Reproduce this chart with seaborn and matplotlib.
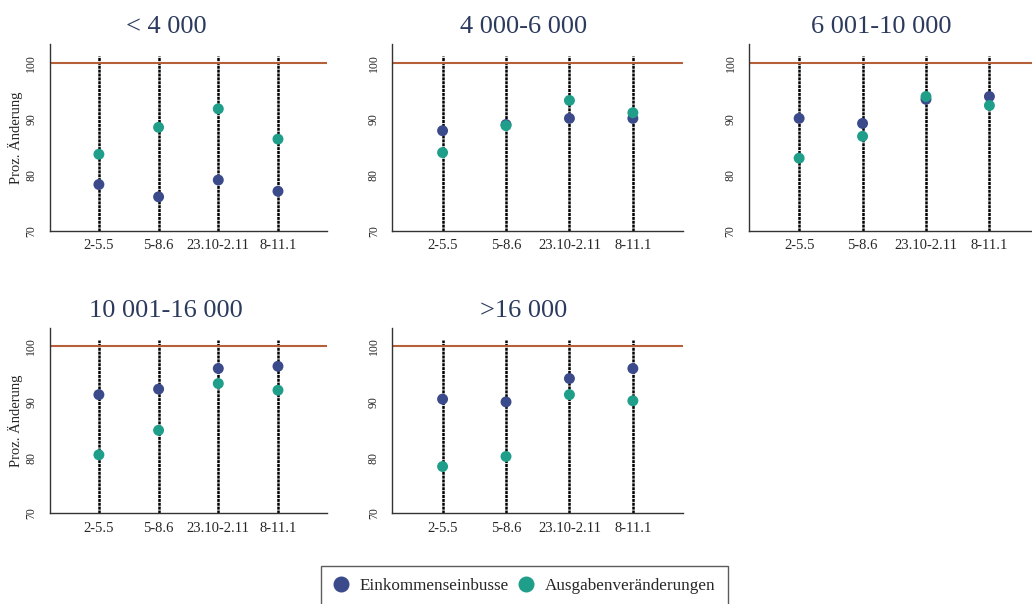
import numpy as np
import pandas as pd
import seaborn as sns
import matplotlib.pyplot as plt
from matplotlib.lines import Line2D

sns.set_style("white")
plt.rcParams['font.family'] = ['Liberation Serif', 'DejaVu Serif']

periods = ["2-5.5", "5-8.6", "23.10-2.11", "8-11.1"]
groups = ["< 4 000", "4 000-6 000", "6 001-10 000", "10 001-16 000", ">16 000"]

einkommen = [
    [78.3, 76.1, 79.1, 77.1],
    [87.9, 89.0, 90.1, 90.1],
    [90.1, 89.2, 93.5, 94.0],
    [91.3, 92.3, 96.0, 96.4],
    [90.5, 90.0, 94.2, 96.0],
]
ausgaben = [
    [83.7, 88.5, 91.8, 86.4],
    [84.0, 88.8, 93.3, 91.1],
    [83.0, 86.9, 94.0, 92.4],
    [80.5, 84.9, 93.3, 92.1],
    [78.4, 80.2, 91.3, 90.2],
]

c_ein = "#3b4a8b"
c_aus = "#1f9e89"
c_ref = "#b5603a"
c_title = "#2c3a5e"

rows = []
for g, ein, aus in zip(groups, einkommen, ausgaben):
    for i, p in enumerate(periods):
        rows.append({"group": g, "x": i + 1, "period": p, "serie": "Einkommenseinbusse", "value": ein[i]})
        rows.append({"group": g, "x": i + 1, "period": p, "serie": "Ausgabenveränderungen", "value": aus[i]})
df = pd.DataFrame(rows)

fig = plt.figure(figsize=(10.32, 6.04), dpi=100)
# column layout: (left, width, xlim, title x)
cols = [
    (0.0484, 0.2684, (0.18, 4.82), 0.419),
    (0.3803, 0.2815, (0.21, 4.79), 0.452),
    (0.7258, 0.2815, (0.21, 4.79), 0.454),
]
rows_pos = [(0.6175, 0.309), (0.1502, 0.307)]

for k, g in enumerate(groups):
    r, c = divmod(k, 3)
    left, w, xl, tx = cols[c]
    b, h = rows_pos[r]
    ax = fig.add_axes([left, b, w, h])
    sub = df[df.group == g]
    ax.vlines(range(1, 5), 70, 101.2, colors="black", linestyles=(0, (1.2, 0.35)), lw=1.8, zorder=1)
    ax.axhline(100, color=c_ref, lw=1.5, zorder=2)
    sns.scatterplot(data=sub, x="x", y="value", hue="serie",
                    palette={"Einkommenseinbusse": c_ein, "Ausgabenveränderungen": c_aus},
                    s=62, edgecolor="none", legend=False, ax=ax, zorder=3)
    ax.set_xlim(*xl)
    ax.set_ylim(70, 103.3)
    ax.set_xticks(range(1, 5))
    ax.set_xticklabels(periods, fontsize=10.5)
    ax.set_yticks([70, 80, 90, 100])
    ax.set_yticklabels(["70", "80", "90", "100"], fontsize=8.5, rotation=90, va="center")
    ax.tick_params(axis="x", length=0, pad=6)
    ax.tick_params(axis="y", length=0, pad=9)
    ax.set_xlabel("")
    ax.set_ylabel("Proz. Änderung" if c == 0 else "", fontsize=10.5, labelpad=1.5)
    ax.set_title(g, fontsize=19, color=c_title, pad=8, x=tx)
    sns.despine(ax=ax)
    for s in ["left", "bottom"]:
        ax.spines[s].set_color("#333333")
        ax.spines[s].set_linewidth(1.0)

handles = [
    Line2D([], [], marker="o", ls="", color=c_ein, markersize=10.5, label="Einkommenseinbusse"),
    Line2D([], [], marker="o", ls="", color=c_aus, markersize=10.5, label="Ausgabenveränderungen"),
]
leg = fig.legend(handles=handles, loc="upper center", bbox_to_anchor=(0.508, 0.0625), ncol=2,
                 frameon=True, fancybox=False, fontsize=12.3, handletextpad=0.6,
                 handlelength=1.0, columnspacing=0.5, borderpad=0.7, borderaxespad=0)
leg.get_frame().set_edgecolor("#333333")
leg.get_frame().set_linewidth(1.0)

fig.savefig("out.png", dpi=100)
